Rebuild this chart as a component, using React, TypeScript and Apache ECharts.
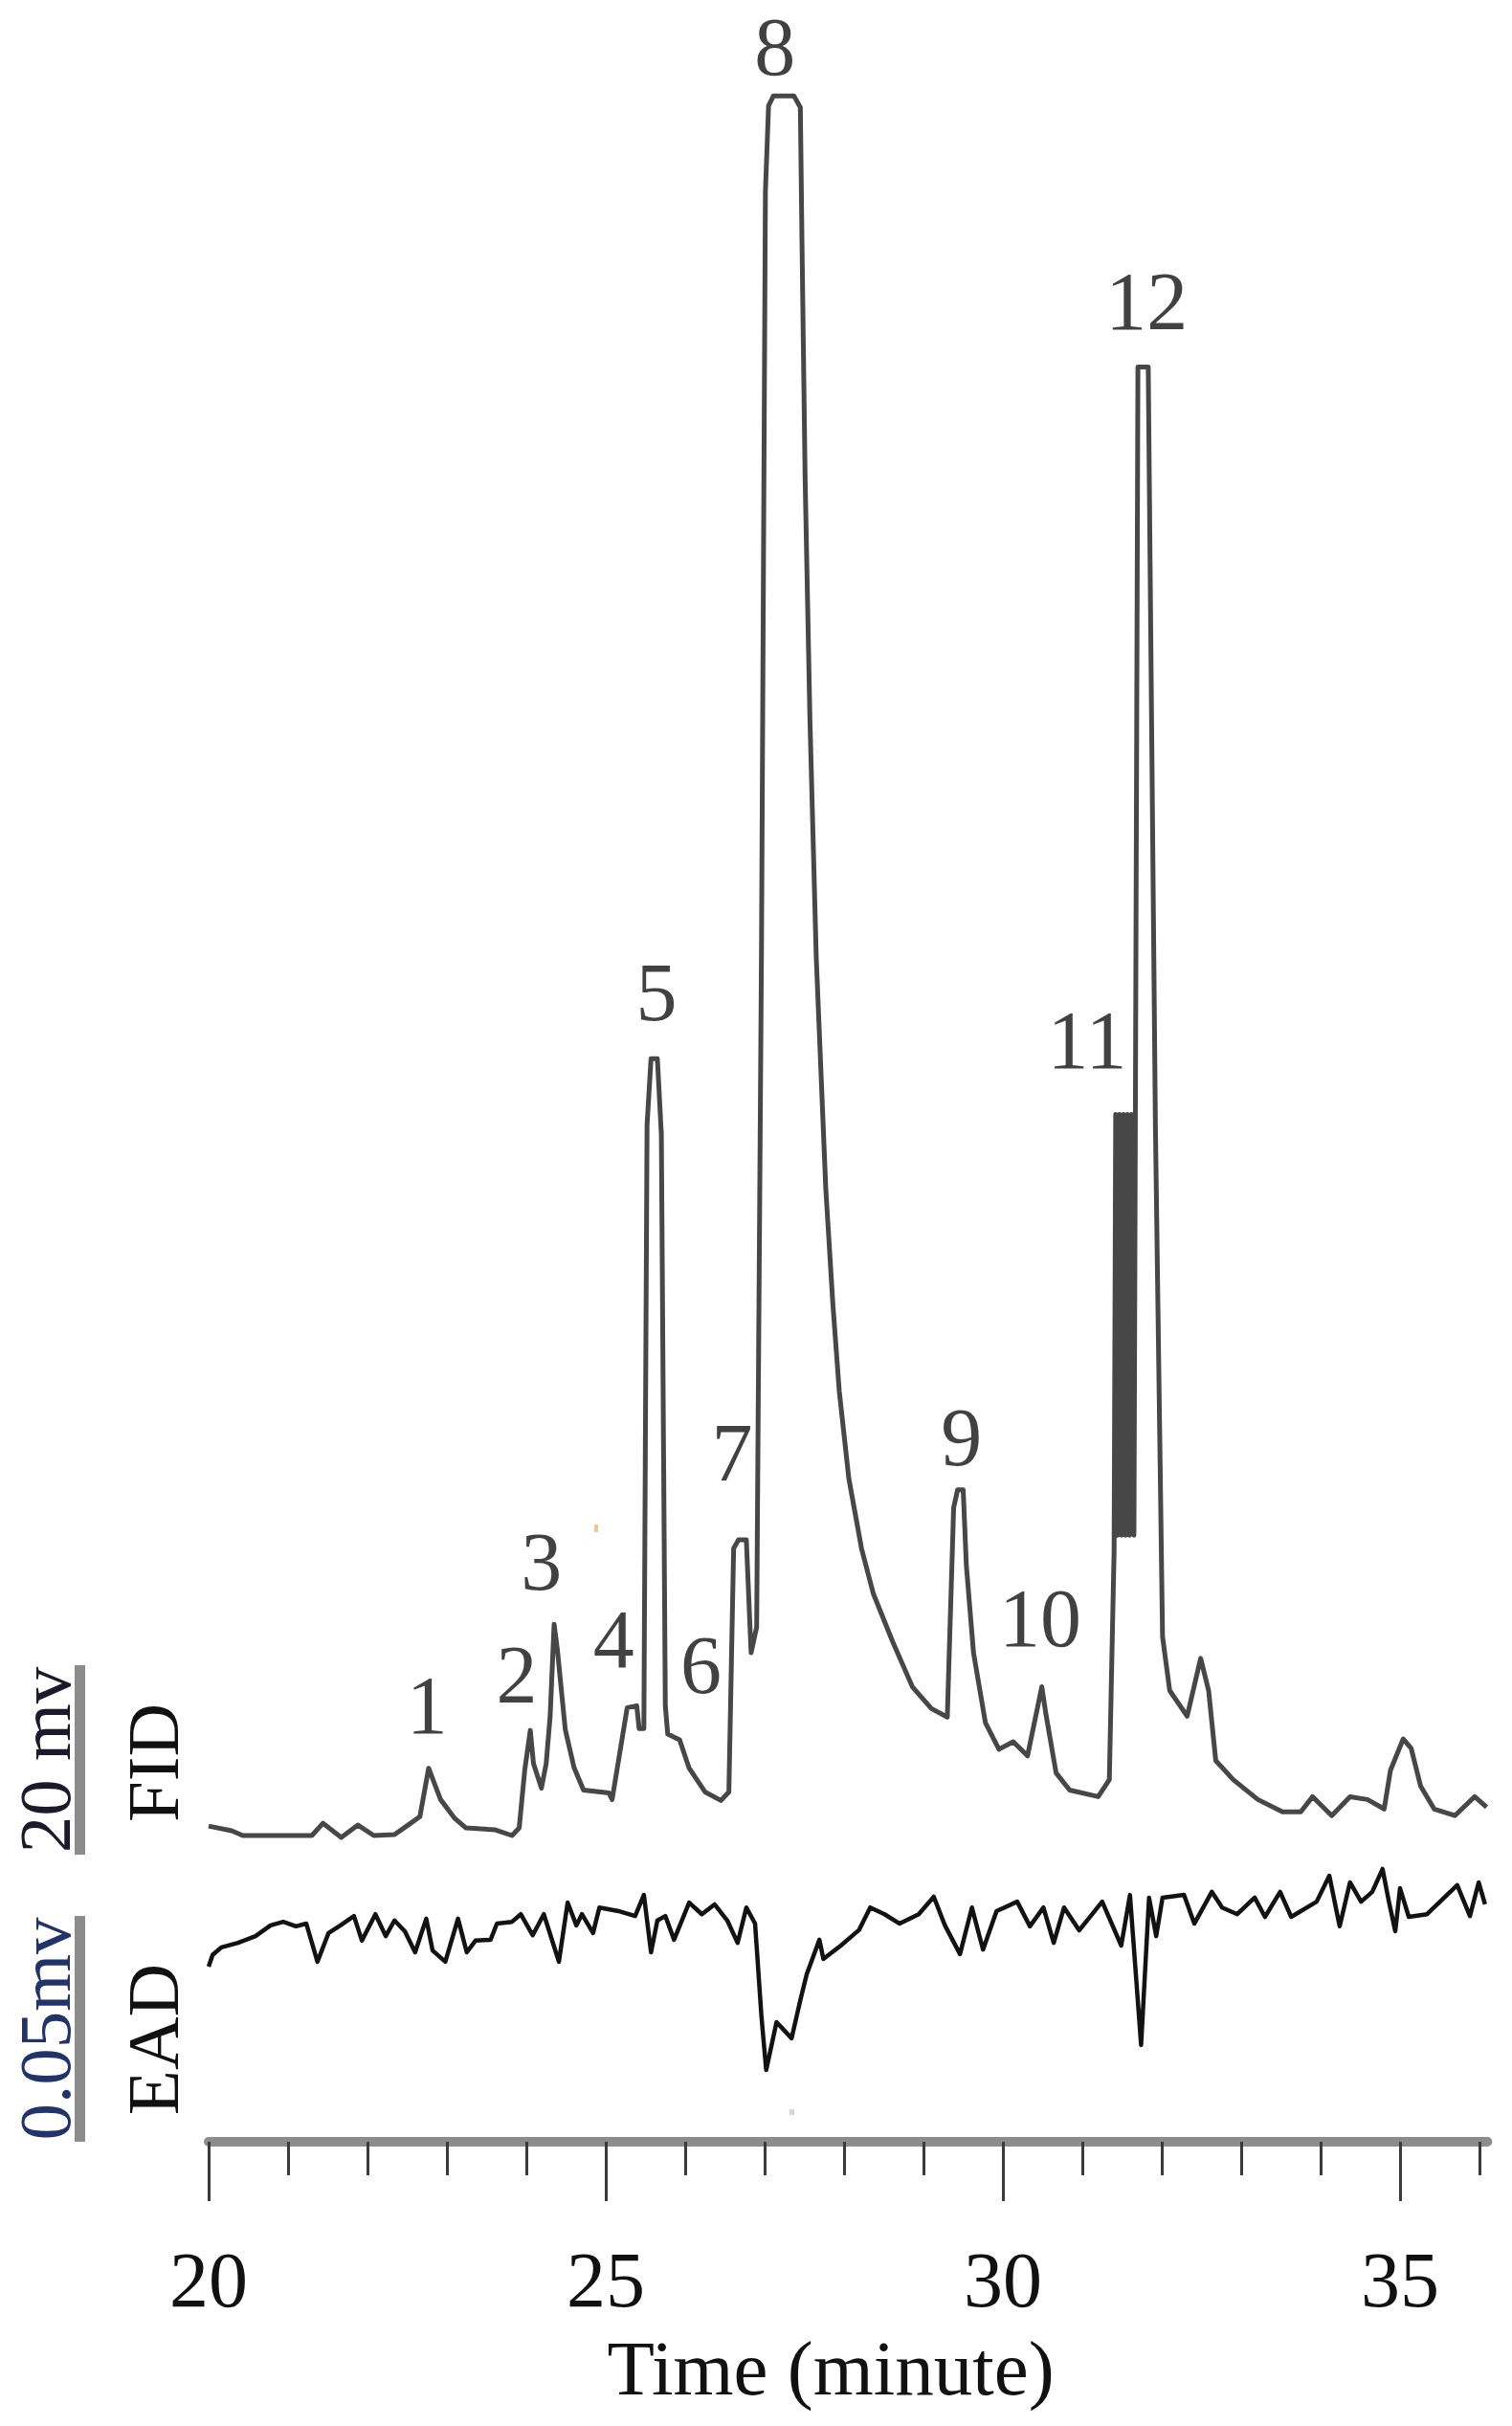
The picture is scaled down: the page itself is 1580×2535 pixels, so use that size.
import React, { useEffect, useRef } from "react";
import * as echarts from "echarts";

// ---------- data ----------
// FID trace: retention time (min) and detector signal (mV above baseline)
const FID_TIME = [
  20.0, 20.29, 20.43, 21.3, 21.44, 21.67, 21.88, 22.08, 22.34, 22.51,
  22.66, 22.77, 22.92, 23.1, 23.24, 23.61, 23.82, 23.91, 23.98, 24.05,
  24.09, 24.19, 24.25, 24.3, 24.35, 24.39, 24.49, 24.6, 24.72, 25.04,
  25.08, 25.18, 25.27, 25.39, 25.42, 25.48, 25.52, 25.57, 25.65, 25.7,
  25.75, 25.78, 25.93, 26.05, 26.25, 26.45, 26.55, 26.61, 26.67, 26.77,
  26.83, 26.9, 26.96, 27.01, 27.05, 27.11, 27.37, 27.45, 27.47, 27.51,
  27.57, 27.65, 27.71, 27.77, 27.86, 27.94, 28.06, 28.22, 28.37, 28.61,
  28.86, 29.1, 29.3, 29.38, 29.43, 29.5, 29.54, 29.63, 29.78, 29.95,
  30.13, 30.31, 30.49, 30.54, 30.67, 30.84, 31.2, 31.34, 31.4, 31.42,
  31.445, 31.47, 31.495, 31.52, 31.545, 31.57, 31.595, 31.62, 31.65, 31.7,
  31.83, 31.92, 32.01, 32.1, 32.32, 32.49, 32.59, 32.68, 32.9, 33.21,
  33.52, 33.75, 33.9, 34.14, 34.37, 34.59, 34.8, 34.88, 35.04, 35.14,
  35.26, 35.43, 35.69, 35.94, 36.09,
];
const FID_MV = [
  1.0, 0.5, 0, 0, 1.3, -0.2, 1.1, 0, 0.1, 1.1,
  2.0, 7.1, 3.8, 1.8, 0.8, 0.6, 0, 0.8, 6.9, 11.1,
  7.6, 5.0, 7.6, 12.6, 22.3, 19.7, 11.2, 7.2, 4.8, 4.5,
  3.8, 8.9, 13.5, 13.7, 11.3, 11.3, 75.0, 82.0, 82.0, 74.0,
  13.7, 10.7, 10.1, 7.1, 4.6, 3.7, 4.6, 30.3, 31.2, 31.2,
  19.3, 22.0, 92.7, 173.5, 182.6, 183.6, 183.6, 182.4, 168.5, 143.2,
  118.0, 92.7, 80.5, 68.3, 56.0, 46.9, 37.7, 30.3, 25.5, 20.5,
  15.7, 13.4, 12.5, 34.6, 36.5, 36.5, 28.5, 19.3, 11.9, 9.1,
  9.9, 8.4, 15.7, 12.9, 6.6, 4.8, 4.1, 5.9, 30.0, 76.1,
  31.7, 76.1, 31.7, 76.1, 31.7, 76.1, 31.7, 76.1, 31.7, 155.0,
  155.0, 75.0, 21.0, 15.3, 12.6, 18.7, 15.3, 7.9, 5.9, 3.8,
  2.5, 2.5, 4.1, 2.1, 4.1, 3.8, 2.8, 6.9, 10.2, 9.2,
  5.2, 2.8, 2.1, 4.1, 3.0,
];

// EAD trace: retention time (min) and antennal response (µV, arbitrary zero)
const EAD_TIME = [
  20.0, 20.05, 20.16, 20.37, 20.59, 20.78, 20.94, 21.1, 21.23, 21.37,
  21.51, 21.66, 21.83, 21.93, 22.1, 22.23, 22.34, 22.47, 22.6, 22.74,
  22.82, 22.98, 23.14, 23.25, 23.36, 23.55, 23.63, 23.82, 23.93, 24.08,
  24.22, 24.41, 24.52, 24.63, 24.7, 24.84, 24.92, 25.16, 25.37, 25.48,
  25.57, 25.65, 25.75, 25.86, 26.05, 26.21, 26.37, 26.53, 26.66, 26.77,
  26.88, 26.96, 27.02, 27.15, 27.34, 27.45, 27.53, 27.69, 27.74, 27.96,
  28.19, 28.33, 28.51, 28.7, 28.94, 29.13, 29.27, 29.46, 29.61, 29.75,
  29.92, 30.18, 30.34, 30.51, 30.64, 30.77, 30.96, 31.25, 31.49, 31.6,
  31.74, 31.84, 31.93, 32.01, 32.28, 32.41, 32.63, 32.76, 32.95, 33.17,
  33.3, 33.49, 33.63, 33.95, 34.11, 34.24, 34.37, 34.51, 34.65, 34.78,
  34.86, 34.94, 35.0, 35.11, 35.34, 35.72, 35.88, 35.99, 36.07,
];
const EAD_UV = [
  -3.2, -0.6, 1.1, 2.1, 3.6, 6.0, 6.8, 5.8, 6.4, -2.1,
  4.3, 6.0, 8.1, 2.6, 8.5, 3.6, 7.1, 4.7, 0, 7.5,
  0.4, -2.1, 7.5, 0, 2.6, 2.8, 6.4, 6.8, 8.5, 3.8,
  8.5, -2.1, 11.1, 6.0, 8.5, 4.3, 10.0, 9.2, 8.1, 12.8,
  0, 7.1, 8.1, 2.8, 11.1, 8.5, 10.7, 7.1, 2.1, 10.0,
  6.4, -14.3, -26.3, -15.6, -19.2, -10.7, -4.9, 2.8, -1.5, 1.5,
  5.0, 10.0, 8.5, 6.4, 8.5, 12.4, 6.0, -0.4, 10.0, 0.6,
  9.2, 11.3, 5.8, 10.0, 2.1, 10.0, 4.9, 11.3, 1.5, 12.8,
  -20.7, 12.2, 3.6, 12.2, 12.8, 6.4, 13.5, 10.0, 8.5, 12.2,
  7.9, 13.5, 7.9, 11.3, 17.1, 5.8, 15.6, 11.3, 13.5, 18.6,
  11.3, 4.7, 14.3, 7.9, 8.5, 15.0, 8.1, 15.6, 10.7,
];

// Peak numbers and where their labels sit (time, FID mV)
const PEAK_NAMES = ["1", "2", "3", "4", "5", "6", "7", "8", "9", "10", "11", "12"];
const PEAK_LABEL_TIME = [22.75, 23.88, 24.19, 25.1, 25.64, 26.2, 26.59, 27.13, 29.48, 30.47, 31.06, 31.81];
const PEAK_LABEL_MV = [13.7, 17.0, 28.9, 20.7, 89.0, 18.0, 40.4, 188.8, 42.0, 22.9, 83.9, 161.9];

// Axis ticks (minutes)
const MAJOR_TICKS = [20, 25, 30, 35];
const MINOR_TICKS = [21, 22, 23, 24, 26, 27, 28, 29, 31, 32, 33, 34, 36];
const X_MIN = 20;
const X_MAX = 36.1;

// ---------- layout ----------
const W = 1580;
const H = 2535;
const SERIF = '"Liberation Serif", "Times New Roman", Times, serif';
const PX_PER_MIN = 83;
const GRID_LEFT = 218;
const GRID_TOP = 40;
const AXIS_Y = 2238;
const GRID_W = (X_MAX - X_MIN) * PX_PER_MIN;
const GRID_H = AXIS_Y - GRID_TOP;

// FID scale: 20 mV bar = 198 px; baseline at y = 1918
const FID_PX_PER_MV = 198 / 20;
const FID_ZERO_Y = 1918;
const FID_MIN = (FID_ZERO_Y - AXIS_Y) / FID_PX_PER_MV;
const FID_MAX = (FID_ZERO_Y - GRID_TOP) / FID_PX_PER_MV;

// EAD scale: 0.05 mV bar = 234 px; zero at y = 2040
const EAD_PX_PER_UV = 234 / 50;
const EAD_ZERO_Y = 2040;
const EAD_MIN = (EAD_ZERO_Y - AXIS_Y) / EAD_PX_PER_UV;
const EAD_MAX = (EAD_ZERO_Y - GRID_TOP) / EAD_PX_PER_UV;

function zip(a: number[], b: number[]): number[][] {
  const n = Math.min(a.length, b.length);
  const out: number[][] = [];
  for (let i = 0; i < n; i++) out.push([a[i], b[i]]);
  return out;
}

function buildOption(): any {
  const fidData = zip(FID_TIME, FID_MV);
  const eadData = zip(EAD_TIME, EAD_UV);
  const labelData = PEAK_NAMES.map((name, i) => ({
    name,
    value: [PEAK_LABEL_TIME[i], PEAK_LABEL_MV[i]],
  }));

  const sideText = (text: string, x: number, y: number, fill: string) => ({
    type: "text",
    x,
    y,
    rotation: Math.PI / 2,
    silent: true,
    style: {
      text,
      fontSize: 77,
      lineHeight: 66,
      fontFamily: SERIF,
      fill,
      align: "center",
      verticalAlign: "middle",
    },
  });

  return {
    animation: false,
    backgroundColor: "#ffffff",
    grid: { left: GRID_LEFT, top: GRID_TOP, width: GRID_W, height: GRID_H },
    xAxis: [
      {
        type: "value",
        min: X_MIN,
        max: X_MAX,
        position: "bottom",
        axisLine: { show: true, onZero: false, lineStyle: { color: "#8c8c8c", width: 10 } },
        axisTick: {
          show: true,
          customValues: MAJOR_TICKS,
          length: 62,
          lineStyle: { color: "#3a3a3a", width: 3 },
        },
        axisLabel: {
          show: true,
          customValues: MAJOR_TICKS,
          margin: 144,
          verticalAlign: "middle",
          fontSize: 82,
          lineHeight: 66,
          fontFamily: SERIF,
          color: "#111111",
        },
        splitLine: { show: false },
      },
      {
        type: "value",
        min: X_MIN,
        max: X_MAX,
        position: "bottom",
        axisLine: { show: false, onZero: false },
        axisTick: {
          show: true,
          customValues: MINOR_TICKS,
          length: 35,
          lineStyle: { color: "#3a3a3a", width: 3 },
        },
        axisLabel: { show: false },
        splitLine: { show: false },
      },
    ],
    yAxis: [
      { type: "value", min: FID_MIN, max: FID_MAX, show: false, splitLine: { show: false } },
      { type: "value", min: EAD_MIN, max: EAD_MAX, show: false, splitLine: { show: false } },
    ],
    series: [
      {
        name: "FID",
        type: "line",
        xAxisIndex: 0,
        yAxisIndex: 0,
        data: fidData,
        symbol: "none",
        showSymbol: false,
        silent: true,
        lineStyle: { color: "#474747", width: 5, join: "round" },
      },
      {
        name: "EAD",
        type: "line",
        xAxisIndex: 0,
        yAxisIndex: 1,
        data: eadData,
        symbol: "none",
        showSymbol: false,
        silent: true,
        lineStyle: { color: "#121212", width: 4.5, join: "round" },
      },
      {
        name: "peaks",
        type: "scatter",
        xAxisIndex: 0,
        yAxisIndex: 0,
        data: labelData,
        symbolSize: 1,
        silent: true,
        clip: false,
        itemStyle: { color: "rgba(0,0,0,0)" },
        label: {
          show: true,
          position: "inside",
          formatter: "{b}",
          fontSize: 86,
          lineHeight: 68,
          fontFamily: SERIF,
          color: "#111111",
        },
      },
    ],
    graphic: [
      sideText("20 mv", 47, 1839, "#1a1a2a"),
      sideText("FID", 160, 1842, "#111111"),
      sideText("0.05mv", 47, 2120, "#22336a"),
      sideText("EAD", 160, 2131, "#111111"),
      { type: "rect", silent: true, shape: { x: 78, y: 1740, width: 11, height: 198 }, style: { fill: "#8c8c8c" } },
      { type: "rect", silent: true, shape: { x: 78, y: 2002, width: 11, height: 236 }, style: { fill: "#8c8c8c" } },
      {
        type: "text",
        silent: true,
        x: 868,
        y: 2475,
        style: {
          text: "Time (minute)",
          fontSize: 81,
          lineHeight: 64,
          fontFamily: SERIF,
          fill: "#111111",
          align: "center",
          verticalAlign: "middle",
        },
      },
      { type: "rect", silent: true, shape: { x: 678, y: 2233, width: 24, height: 10 }, style: { fill: "#d69a9a" } },
      { type: "rect", silent: true, shape: { x: 621, y: 1593, width: 4, height: 8 }, style: { fill: "#f2c58a" } },
      { type: "rect", silent: true, shape: { x: 825, y: 2204, width: 5, height: 6 }, style: { fill: "#d8d8d8" } },
    ],
  };
}

export default function App() {
  const ref = useRef<HTMLDivElement | null>(null);
  useEffect(() => {
    if (!ref.current) return;
    const chart = echarts.init(ref.current, undefined, { renderer: "svg", width: W, height: H });
    chart.setOption(buildOption());
    return () => {
      chart.dispose();
    };
  }, []);
  return (
    <div
      ref={ref}
      style={{ position: "absolute", left: 0, top: 0, width: W, height: H, background: "#fff" }}
    />
  );
}
